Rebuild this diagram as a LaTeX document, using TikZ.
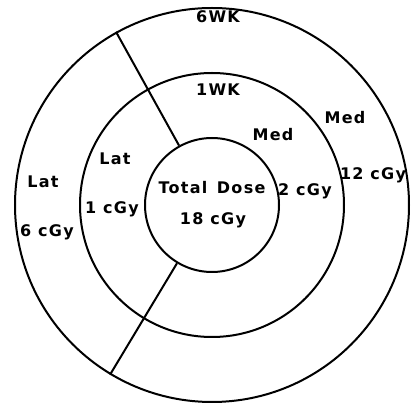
\documentclass[tikz,border=0pt]{standalone}
\usepackage{fontspec}
\newfontfamily\dosefont[LetterSpace=8]{DejaVu Sans}
\tikzset{
  ring/.style={draw, circle, inner sep=0pt, line width=2pt},
  lbl/.style={font=\dosefont\bfseries\fontsize{16}{18}\selectfont, inner sep=0pt}
}
\begin{document}
\begin{tikzpicture}[x=1pt, y=1pt]
    \useasboundingbox (0,0) rectangle (413,410);
    \coordinate (c) at (212,205);
    % rings
    \node[ring, minimum size=394pt] (outer) at (c) {};
    \node[ring, minimum size=264pt] (middle) at (c) {};
    \node[ring, minimum size=134pt] (inner) at (c) {};
    % cuts between lateral and medial parts
    \draw[line width=2pt] (inner.119) -- (outer.119);
    \draw[line width=2pt] (inner.239) -- (outer.239);
    % labels
    \node[lbl] (wk6) at (218,393) {6WK};
    \node[lbl] (wk1) at (218,320) {1WK};
    \node[lbl] (medout) at (345,292) {Med};
    \node[lbl] (medin) at (273,275) {Med};
    \node[lbl] (latin) at (115,251) {Lat};
    \node[lbl] (latout) at (43,228) {Lat};
    \node[lbl] (dosein) at (112,201) {1 cGy};
    \node[lbl] (doseout) at (47,178) {6 cGy};
    \node[lbl] (total) at (212,222) {Total\, Dose};
    \node[lbl] (totaldose) at (213,190) {18 cGy};
    \node[lbl] (dosemed) at (305,219) {2 cGy};
    \node[lbl] (dosemedout) at (373,235) {12 cGy};
  \end{tikzpicture}
\end{document}
